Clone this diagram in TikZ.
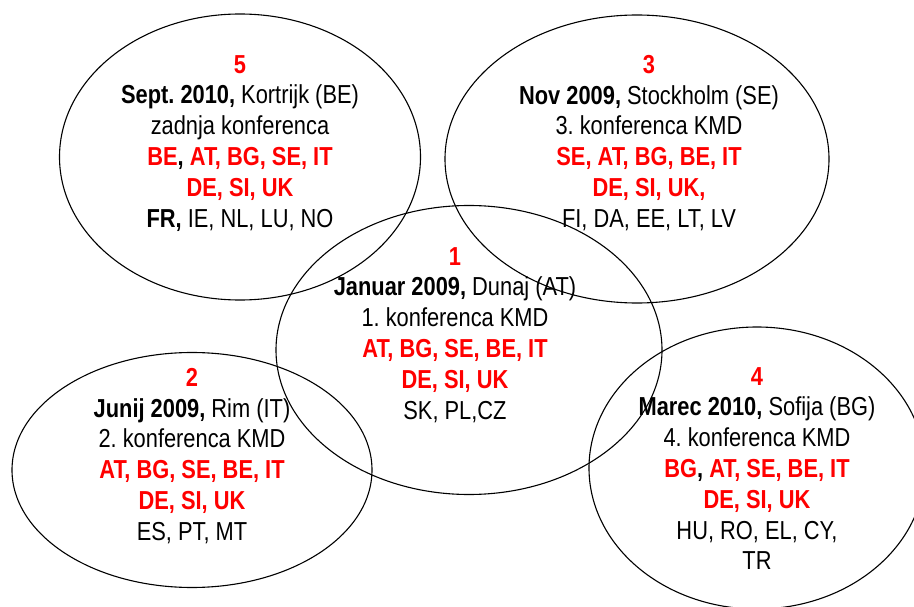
\documentclass[tikz,border=0pt]{standalone}
\usepackage{fontspec}
\setmainfont[FakeStretch=0.84]{Liberation Sans}
\frenchspacing
\begin{document}
\begin{tikzpicture}[x=1pt,y=-1pt,
  ring/.style={draw=black,line width=1.1pt},
  info/.style={align=center,inner sep=0pt,anchor=north,
    font=\fontsize{26}{30.8}\selectfont}]
\newcommand{\rd}[1]{\textcolor{red}{\textbf{#1}}}
\useasboundingbox (0,0) rectangle (914,607);
\clip (0,0) rectangle (914,607);
% ellipses
\draw[ring] (240,157) ellipse [x radius=180.5pt, y radius=143pt];
\draw[ring] (637,159) ellipse [x radius=192pt, y radius=144pt];
\draw[ring] (469,350) ellipse [x radius=193pt, y radius=144.5pt];
\draw[ring] (192,470) ellipse [x radius=180pt, y radius=117.5pt];
\draw[ring] (757,468) ellipse [x radius=168pt, y radius=141pt];
% texts
\node[info] (t5) at (240,55) {\rd{5}\\
  \textbf{Sept. 2010,} Kortrijk (BE)\\
  zadnja konferenca\\
  \rd{BE}\textbf{,} \rd{AT, BG, SE, IT}\\
  \rd{DE, SI, UK}\\
  \textbf{FR,} IE, NL, LU, NO};
\node[info] (t3) at (649,55) {\rd{3}\\
  \textbf{Nov 2009,} Stockholm (SE)\\
  3. konferenca KMD\\
  \rd{SE, AT, BG, BE, IT}\\
  \rd{DE, SI, UK,}\\
  FI, DA, EE, LT, LV};
\node[info] (t1) at (455,247) {\rd{1}\\
  \textbf{Januar 2009,} Dunaj (AT)\\
  1. konferenca KMD\\
  \rd{AT, BG, SE, BE, IT}\\
  \rd{DE, SI, UK}\\
  SK, PL,CZ};
\node[info] (t2) at (192,368) {\rd{2}\\
  \textbf{Junij 2009,} Rim (IT)\\
  2. konferenca KMD\\
  \rd{AT, BG, SE, BE, IT}\\
  \rd{DE, SI, UK}\\
  ES, PT, MT};
\node[info] (t4) at (757,367) {\rd{4}\\
  \textbf{Marec 2010,} Sofija (BG)\\
  4. konferenca KMD\\
  \rd{BG}\textbf{,} \rd{AT, SE, BE, IT}\\
  \rd{DE, SI, UK}\\
  HU, RO, EL, CY,\\
  TR};
\end{tikzpicture}
\end{document}
